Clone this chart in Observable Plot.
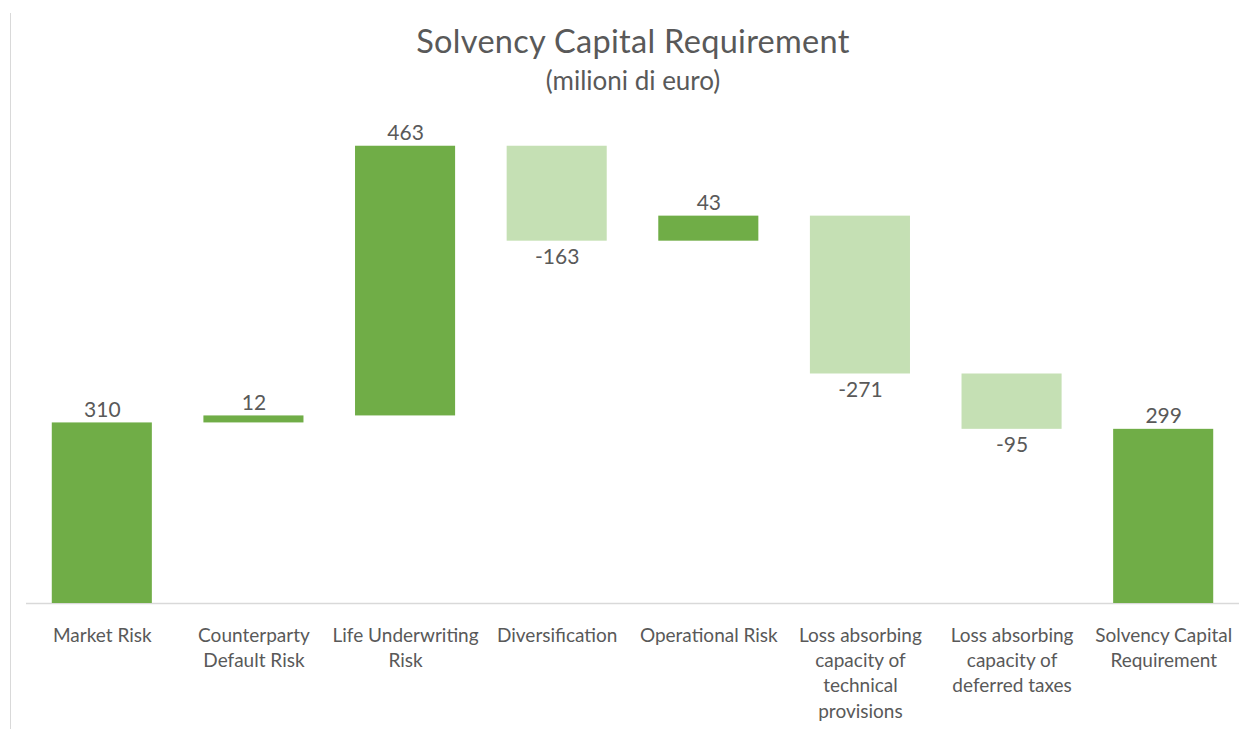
<!DOCTYPE html>
<html>
<head>
<meta charset="utf-8">
<script src="https://cdn.jsdelivr.net/npm/d3@7"></script>
<script src="https://cdn.jsdelivr.net/npm/@observablehq/plot@0.6"></script>
<style>
  html, body { margin: 0; padding: 0; background: #fff; }
  #wrap { position: relative; width: 1244px; height: 729px; overflow: hidden; font-family: Lato, "Open Sans", sans-serif; color: #595959; }
  #border { position: absolute; left: 10px; top: 13px; width: 0; height: 716px; border-left: 1.5px solid #d9d9d9; }
  #title { position: absolute; left: 26px; width: 1214px; top: 21px; text-align: center; font-size: 32.5px; letter-spacing: 0.3px; line-height: 1.2; }
  #subtitle { position: absolute; left: 26px; width: 1214px; top: 65px; text-align: center; font-size: 26px; line-height: 1.2; }
  #chart { position: absolute; left: 0; top: 110px; }
</style>
</head>
<body>
<div id="wrap">
  <div id="border"></div>
  <div id="title">Solvency Capital Requirement</div>
  <div id="subtitle">(milioni di euro)</div>
  <div id="chart"></div>
</div>
<script>
const categories = [
  "Market Risk",
  "Counterparty\nDefault Risk",
  "Life Underwriting\nRisk",
  "Diversification",
  "Operational Risk",
  "Loss absorbing\ncapacity of\ntechnical\nprovisions",
  "Loss absorbing\ncapacity of\ndeferred taxes",
  "Solvency Capital\nRequirement"
];
const values = [310, 12, 463, -163, 43, -271, -95, 299];
const isTotal = [false, false, false, false, false, false, false, true];

const darkGreen = "#70ad47";
const lightGreen = "#c5e0b4";

let cum = 0;
const rows = categories.map((cat, i) => {
  const v = values[i];
  let y1, y2;
  if (isTotal[i]) { y1 = 0; y2 = v; cum = v; }
  else { y1 = cum; y2 = cum + v; cum = y2; }
  return { cat, v, y1, y2, top: Math.max(y1, y2), bottom: Math.min(y1, y2) };
});

const plot = Plot.plot({
  width: 1244,
  height: 619,
  marginLeft: 26,
  marginRight: 5,
  marginTop: 27,
  marginBottom: 126,
  style: { fontFamily: "Lato, 'Open Sans', sans-serif", color: "#595959", background: "transparent" },
  x: { domain: categories, paddingInner: 0.34, paddingOuter: 0.17, round: false, label: null },
  y: { domain: [0, 800], axis: null },
  color: { type: "identity" },
  marks: [
    Plot.ruleY([0], { stroke: "#d9d9d9", strokeWidth: 1.5 }),
    Plot.barY(rows, { x: "cat", y1: "y1", y2: "y2", fill: d => d.v < 0 ? lightGreen : darkGreen }),
    Plot.text(rows.filter(d => d.v >= 0), { x: "cat", y: "top", text: d => String(d.v), dy: -13, fontSize: 21, fill: "#595959" }),
    Plot.text(rows.filter(d => d.v < 0), { x: "cat", y: "bottom", text: d => "-" + String(Math.abs(d.v)), dy: 16, fontSize: 21, fill: "#595959" }),
    Plot.axisX({ tickSize: 0, tickPadding: 21, fontSize: 19, lineHeight: 1.32, fill: "#595959", label: null })
  ]
});
document.getElementById("chart").appendChild(plot);
</script>
</body>
</html>
